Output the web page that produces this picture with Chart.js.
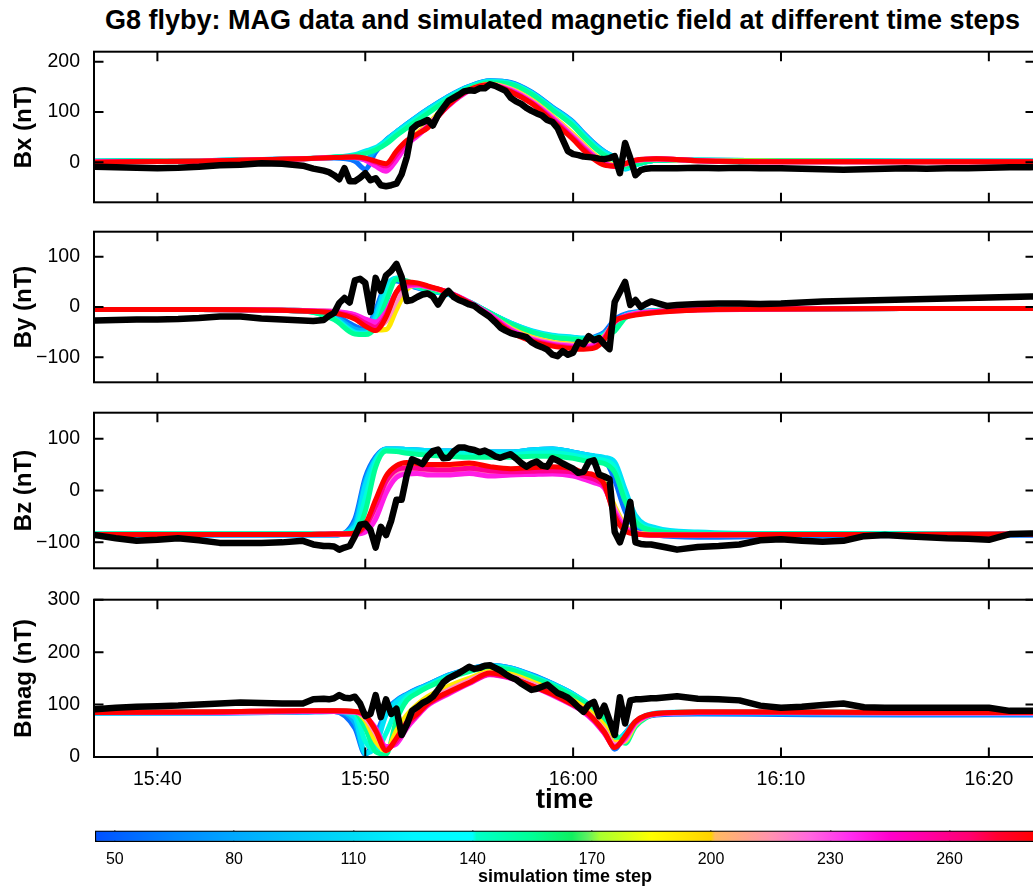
<!DOCTYPE html>
<html><head><meta charset="utf-8">
<script src="https://cdn.jsdelivr.net/npm/chart.js@4.4.1/dist/chart.umd.min.js"></script>
<style>
html,body{margin:0;padding:0;background:#fff;}
body{width:1033px;height:888px;overflow:hidden;position:relative;font-family:"Liberation Sans",Arial,Helvetica,sans-serif;}
canvas{position:absolute;left:0;}
#title{position:absolute;left:0;top:5px;width:1125px;text-align:center;font-weight:bold;font-size:27px;line-height:30px;white-space:nowrap;color:#000;}
</style></head><body>
<div id="title">G8 flyby: MAG data and simulated magnetic field at different time steps</div>
<canvas id="c1"></canvas><canvas id="c2"></canvas><canvas id="c3"></canvas><canvas id="c4"></canvas><canvas id="cb"></canvas>
<script>
// ---------- DATA ----------
// simulation sample times (minutes after 15:00)
const simT = [37, 42, 47, 48.5, 49.5, 50, 50.5, 51, 51.5, 52, 52.5, 53, 54, 55, 56, 57, 58, 59, 60, 60.5, 61, 61.5, 62, 62.5, 63, 64, 66, 70, 76, 82.5];
const stepNames = ['time step 60', 'time step 90', 'time step 115', 'time step 135', 'time step 155', 'time step 190', 'time step 215', 'time step 240', 'time step 262', 'time step 278'];

const bxStep60  = [2, 3, 7, 8, 2, -14, 20, 44, 60, 76, 91, 105, 131, 151, 162, 159, 140, 110, 80, 58, 38, 21, 8, -10, -4, 4, 4, 3, 2, 2];
const bxStep90  = [2, 3, 7, 9, 8, 5, 25, 44, 60, 76, 91, 105, 131, 151, 162, 158, 139, 109, 79, 57, 37, 21, 9, -12, -5, 4, 4, 3, 2, 2];
const bxStep115 = [2, 3, 7, 10, 15, 22, 29, 43, 60, 75, 90, 104, 130, 150, 161, 157, 138, 108, 78, 56, 36, 20, 10, -14, -6, 4, 4, 3, 2, 2];
const bxStep135 = [2, 3, 7, 10, 14, 20, 27, 40, 57, 72, 87, 101, 128, 149, 160, 156, 137, 106, 75, 53, 33, 17, 7, -11, -5, 4, 4, 3, 2, 2];
const bxStep155 = [2, 3, 7, 10, 13, 17, 24, 36, 53, 68, 83, 97, 125, 147, 158, 155, 135, 104, 72, 50, 30, 14, 4, -8, -4, 4, 4, 3, 2, 2];
const bxStep190 = [1, 2, 7, 9, 9, 6, -4, -12, 12, 40, 58, 76, 116, 144, 155, 146, 124, 92, 56, 36, 16, 2, -6, -4, 3, 6, 3, 2, 1, 1];
const bxStep215 = [1, 2, 7, 9, 9, 5, -6, -15, 8, 37, 55, 73, 114, 143, 154, 145, 122, 90, 53, 33, 14, 0, -7, -4, 3, 6, 3, 1, 1, 1];
const bxStep240 = [1, 2, 7, 9, 9, 4, -8, -18, 4, 34, 52, 70, 112, 142, 153, 143, 120, 88, 50, 30, 12, -2, -8, -4, 3, 7, 3, 1, 1, 1];
const bxStep262 = [0, 2, 7, 9, 10, 7, 0, -8, 15, 40, 55, 70, 113, 143, 153, 141, 118, 85, 47, 27, 9, -4, -8, -3, 4, 7, 3, 1, 1, 1];
const bxStep278 = [0, 2, 7, 9, 10, 8, 2, -3, 22, 43, 56, 68, 114, 144, 154, 140, 117, 82, 45, 24, 6, -6, -8, -3, 4, 7, 3, 1, 1, 1];

const byStep60  = [-5, -5, -7, -16, -38, -45, -5, 45, 52, 45, 38, 33, 25, 10, -12, -33, -50, -60, -64, -64, -60, -50, -25, -14, -10, -7, -5, -4, -3, -3];
const byStep90  = [-5, -5, -7, -19, -44, -48, -12, 42, 55, 46, 39, 33, 25, 10, -12, -32, -48, -58, -62, -63, -61, -52, -33, -16, -11, -7, -5, -4, -3, -3];
const byStep115 = [-5, -5, -8, -22, -50, -52, -20, 40, 58, 48, 40, 34, 26, 10, -12, -32, -47, -56, -60, -62, -62, -55, -42, -18, -12, -8, -5, -4, -3, -3];
const byStep135 = [-5, -5, -8, -24, -52, -54, -30, 25, 57, 50, 41, 34, 26, 10, -12, -33, -49, -58, -62, -64, -63, -57, -45, -20, -13, -8, -5, -4, -3, -3];
const byStep155 = [-5, -5, -8, -25, -54, -55, -40, 10, 55, 52, 42, 35, 27, 10, -12, -34, -50, -60, -64, -65, -64, -58, -48, -22, -14, -8, -5, -4, -3, -3];
const byStep190 = [-5, -5, -7, -10, -18, -30, -46, -45, -5, 35, 44, 40, 28, 8, -16, -42, -60, -70, -74, -75, -72, -58, -30, -18, -13, -9, -5, -4, -3, -3];
const byStep215 = [-5, -5, -7, -9, -16, -27, -38, -28, 12, 40, 44, 40, 28, 9, -15, -44, -62, -72, -76, -77, -74, -59, -30, -18, -13, -9, -5, -4, -3, -3];
const byStep240 = [-5, -5, -7, -9, -15, -24, -30, -10, 30, 42, 44, 40, 29, 10, -15, -45, -64, -74, -78, -79, -76, -60, -30, -18, -13, -9, -5, -4, -3, -3];
const byStep262 = [-5, -5, -8, -11, -20, -32, -40, -16, 30, 46, 46, 41, 29, 9, -18, -48, -66, -76, -81, -82, -80, -63, -29, -19, -15, -10, -6, -4, -3, -3];
const byStep278 = [-5, -5, -8, -12, -24, -38, -47, -20, 30, 50, 48, 42, 29, 8, -20, -50, -68, -78, -83, -84, -82, -65, -28, -20, -16, -11, -6, -4, -3, -3];

const bzStep60  = [-86, -86, -86, -86, -55, 25, 65, 80, 80, 79, 78, 77, 76, 75, 74, 74, 78, 80, 74, 70, 66, 60, 20, -40, -72, -86, -90, -88, -87, -86];
const bzStep90  = [-86, -86, -86, -86, -62, 18, 62, 80, 80, 79, 78, 77, 76, 75, 74, 74, 78, 80, 74, 70, 66, 62, 40, -20, -62, -80, -86, -86, -85, -85];
const bzStep115 = [-84, -84, -84, -84, -70, 10, 60, 80, 80, 79, 78, 77, 76, 75, 74, 74, 78, 80, 74, 70, 67, 64, 55, 2, -48, -72, -80, -83, -83, -83];
const bzStep135 = [-84, -84, -84, -84, -76, -15, 55, 78, 77, 75, 74, 72, 71, 70, 69, 69, 72, 73, 68, 64, 61, 58, 45, -10, -55, -76, -82, -84, -84, -84];
const bzStep155 = [-84, -84, -84, -84, -82, -40, 45, 76, 75, 72, 70, 68, 66, 64, 64, 64, 66, 66, 62, 58, 55, 52, 35, -20, -60, -78, -84, -84, -84, -84];
const bzStep190 = [-85, -85, -85, -84, -84, -75, -40, 10, 35, 45, 47, 46, 45, 46, 43, 40, 40, 42, 38, 32, 26, 15, -30, -68, -80, -85, -86, -85, -85, -84];
const bzStep215 = [-85, -85, -85, -84, -84, -78, -48, 2, 30, 38, 40, 38, 37, 40, 35, 35, 36, 37, 33, 27, 20, 10, -35, -70, -81, -86, -86, -85, -85, -84];
const bzStep240 = [-85, -85, -85, -84, -84, -80, -55, -5, 25, 32, 33, 30, 30, 33, 28, 30, 31, 32, 28, 22, 15, 5, -40, -72, -82, -86, -86, -85, -85, -84];
const bzStep262 = [-85, -85, -85, -84, -83, -70, -30, 18, 40, 44, 43, 41, 40, 43, 38, 36, 37, 38, 35, 28, 22, 8, -45, -76, -83, -86, -86, -85, -85, -84];
const bzStep278 = [-85, -85, -85, -84, -82, -65, -18, 28, 48, 54, 52, 50, 50, 53, 46, 42, 44, 46, 42, 34, 30, 12, -50, -78, -84, -86, -86, -85, -85, -84];

const bmStep60  = [84, 84, 86, 87, 55, 5, 40, 88, 108, 120, 130, 138, 156, 168, 175, 170, 157, 140, 120, 105, 88, 65, 15, 45, 66, 80, 82, 81, 80, 80];
const bmStep90  = [84, 84, 86, 87, 65, 6, 30, 84, 107, 119, 129, 138, 156, 168, 175, 170, 156, 140, 120, 106, 91, 72, 22, 45, 67, 82, 84, 83, 82, 82];
const bmStep115 = [84, 85, 87, 88, 75, 8, 20, 80, 105, 118, 128, 137, 155, 167, 174, 169, 155, 139, 120, 108, 94, 78, 32, 45, 68, 84, 86, 85, 84, 84];
const bmStep135 = [85, 85, 87, 88, 82, 30, 12, 45, 90, 114, 126, 135, 153, 165, 172, 168, 154, 138, 118, 106, 92, 76, 38, 35, 63, 83, 86, 86, 85, 85];
const bmStep155 = [85, 86, 87, 88, 86, 55, 10, 5, 70, 108, 122, 133, 150, 163, 170, 166, 152, 136, 116, 104, 90, 74, 45, 26, 58, 82, 86, 86, 85, 85];
const bmStep190 = [85, 86, 87, 88, 87, 70, 30, 12, 50, 80, 100, 115, 135, 150, 163, 158, 144, 128, 108, 96, 80, 60, 28, 30, 62, 83, 86, 86, 85, 85];
const bmStep215 = [85, 85, 87, 87, 86, 75, 45, 15, 35, 68, 90, 107, 128, 146, 160, 154, 140, 123, 103, 91, 74, 52, 24, 32, 63, 82, 85, 85, 84, 84];
const bmStep240 = [85, 85, 87, 87, 86, 78, 55, 20, 25, 55, 78, 98, 120, 140, 157, 150, 135, 118, 98, 86, 68, 45, 20, 35, 65, 82, 85, 85, 84, 84];
const bmStep262 = [85, 86, 88, 88, 87, 79, 52, 15, 30, 60, 80, 100, 122, 141, 158, 151, 136, 119, 99, 88, 70, 46, 19, 38, 67, 83, 86, 86, 85, 85];
const bmStep278 = [85, 86, 88, 88, 87, 80, 50, 12, 36, 66, 82, 102, 124, 142, 160, 152, 136, 120, 100, 90, 72, 48, 18, 40, 68, 83, 86, 86, 85, 85];

// MAG measurement times (minutes after 15:00)
const magT = [37, 38, 39, 40, 41, 42, 43, 44, 45, 46, 47,
  47.5, 48,
  48.25, 48.5, 48.75, 49, 49.25, 49.5, 49.75, 50, 50.25, 50.5, 50.75, 51, 51.25, 51.5, 51.75, 52,
  52.25, 52.5, 52.75, 53, 53.25, 53.5, 53.75, 54, 54.25, 54.5, 54.75, 55, 55.25, 55.5, 55.75, 56,
  56.25, 56.5, 56.75, 57, 57.25, 57.5, 57.75, 58, 58.25, 58.5, 58.75, 59, 59.25, 59.5, 59.75, 60,
  60.25, 60.5, 60.75, 61, 61.25, 61.5, 61.75, 62, 62.25, 62.5, 62.75, 63, 63.25, 63.5, 63.75, 64,
  64.5, 65,
  66, 67, 68, 69, 70, 71, 72, 73, 74, 75, 76, 77, 78, 79, 80, 81, 82,
  82.5];
const magBx = [-9, -10, -11, -12, -11, -9, -6, -5, -2, -3, -7,
  -13, -17,
  -20, -26, -34, -12, -38, -38, -31, -22, -36, -32, -46, -48, -46, -43, -24, 10,
  66, 75, 79, 84, 73, 94, 108, 122, 128, 134, 141, 143, 142, 147, 147, 155,
  152, 147, 142, 128, 121, 116, 108, 102, 97, 93, 84, 80, 68, 45, 22, 16,
  14, 11, 10, 9, 7, 6, 8, 12, -22, 38, 8, -26, -16, -13, -12, -12,
  -12, -12,
  -11, -12, -11, -12, -12, -13, -14, -15, -14, -13, -12, -13, -12, -12, -11, -10, -10,
  -9];
const magBy = [-27, -26, -25, -25, -24, -22, -19, -19, -23, -25, -27,
  -28, -26,
  -18, -12, 8, 18, 9, 53, 56, 48, -10, 58, 32, 63, 72, 86, 60, 12,
  14, 20, 25, 27, 21, 5, 22, 32, 20, 14, 10, 5, 2, -6, -13, -20,
  -30, -41, -47, -52, -55, -57, -60, -70, -76, -80, -85, -95, -98, -88, -95, -91,
  -70, -74, -58, -66, -62, -74, -84, 10, 30, 50, 4, 14, 0, 6, 11, 8,
  2, 4,
  6, 7, 7, 6, 7, 9, 11, 12, 13, 14, 15, 16, 17, 18, 19, 20, 21,
  21];
const magBz = [-86, -92, -97, -95, -92, -96, -101, -101, -101, -100, -97,
  -104, -107,
  -107, -108, -114, -110, -107, -88, -66, -64, -76, -110, -70, -86, -58, -18, -18, 30,
  60, 56, 51, 66, 76, 79, 62, 63, 75, 83, 83, 80, 78, 74, 77, 72,
  66, 63, 67, 70, 62, 53, 46, 52, 56, 48, 46, 62, 58, 52, 47, 42,
  34, 36, 55, 58, 31, 27, 22, -80, -100, -70, -22, -100, -103, -104, -104, -106,
  -110, -114,
  -109, -107, -104, -96, -94, -97, -99, -97, -88, -86, -88, -90, -92, -93, -95, -84, -83,
  -83];
const magBmag = [91, 94, 96, 97, 98, 100, 102, 104, 103, 102, 102,
  110, 111,
  110, 112, 118, 113, 112, 115, 102, 78, 82, 118, 76, 110, 82, 92, 42, 62,
  88, 95, 103, 108, 115, 128, 142, 150, 155, 160, 166, 172, 168, 170, 174, 175,
  170, 165, 158, 152, 148, 140, 134, 128, 130, 134, 138, 130, 122, 118, 113, 105,
  95, 86, 100, 105, 78, 98, 70, 42, 114, 64, 108, 110, 110, 111, 112, 112,
  114, 116,
  111, 110, 108, 98, 94, 96, 99, 102, 95, 94, 94, 94, 94, 94, 94, 88, 88,
  88];

// tick values / labels
const timeTicks = [40, 50, 60, 70, 80];
const timeTickLabels = ['15:40', '15:50', '16:00', '16:10', '16:20'];
const bxTicks = [0, 100, 200];
const byTicks = [-100, 0, 100];
const bzTicks = [-100, 0, 100];
const bmTicks = [0, 100, 200, 300];
const cbTicks = [50, 80, 110, 140, 170, 200, 230, 260];
const cbRange = [45, 281.5];
const cbStopValues = [45, 50, 65, 80, 95, 110, 125, 140, 141, 155, 165, 169, 172, 185, 200, 201, 215, 225, 235, 245, 255, 265, 272, 281.5];
const cbStopColors = ['#0050ff', '#005eff', '#0086ff', '#00a8ff', '#00c4fa', '#00dcf8', '#00f6ff', '#00ffff', '#00ffc8', '#00ff96', '#10f060', '#60f060', '#a8ff30', '#ffff00', '#ffd200', '#ffbb60', '#ff92b0', '#ff66e0', '#ff2cf0', '#ff00cc', '#ff00a0', '#ff0070', '#ff0030', '#ff0000'];

// ---------- STYLE / LAYOUT ----------
const stepColors = ['#0a70ff', '#00b0fc', '#00e2fa', '#00ffd8', '#00ff96', '#ffe800', '#ff8cc0', '#ff1ee6', '#ff0090', '#ff0000'];
const X_MIN = 36.95, X_MAX = 82.22;
const TICK_LEN = 9.5;
Chart.defaults.font.family = '"Liberation Sans", Arial, Helvetica, sans-serif';
Chart.defaults.color = '#000';

const frameTicks = {
  id: 'frameTicks',
  afterDraw(chart) {
    const {ctx, chartArea: a, scales: {x, y}} = chart;
    ctx.save();
    ctx.strokeStyle = '#000';
    ctx.lineWidth = 2;
    ctx.beginPath();
    x.ticks.forEach(t => {
      const px = x.getPixelForValue(t.value);
      ctx.moveTo(px, a.bottom); ctx.lineTo(px, a.bottom - TICK_LEN);
      ctx.moveTo(px, a.top); ctx.lineTo(px, a.top + TICK_LEN);
    });
    y.ticks.forEach(t => {
      const py = y.getPixelForValue(t.value);
      ctx.moveTo(a.left, py); ctx.lineTo(a.left + TICK_LEN, py);
      ctx.moveTo(a.right, py); ctx.lineTo(a.right - TICK_LEN, py);
    });
    ctx.stroke();
    ctx.strokeRect(a.left, a.top, a.right - a.left, a.bottom - a.top);
    ctx.restore();
  }
};

const fmtNum = v => v < 0 ? '\u2212' + Math.abs(v) : String(v);

const panels = [
  {id: 'c1', top: 34, areaTop: 14, areaH: 160, xH: 12, yMin: -80, yMax: 220, ticks: bxTicks, label: 'Bx (nT)',
   sims: [bxStep60, bxStep90, bxStep115, bxStep135, bxStep155, bxStep190, bxStep215, bxStep240, bxStep262, bxStep278], mag: magBx, showX: false},
  {id: 'c2', top: 214, areaTop: 14, areaH: 160, xH: 12, yMin: -150, yMax: 150, ticks: byTicks, label: 'By (nT)',
   sims: [byStep60, byStep90, byStep115, byStep135, byStep155, byStep190, byStep215, byStep240, byStep262, byStep278], mag: magBy, showX: false},
  {id: 'c3', top: 395, areaTop: 14, areaH: 165, xH: 12, yMin: -150, yMax: 150, ticks: bzTicks, label: 'Bz (nT)',
   sims: [bzStep60, bzStep90, bzStep115, bzStep135, bzStep155, bzStep190, bzStep215, bzStep240, bzStep262, bzStep278], mag: magBz, showX: false},
  {id: 'c4', top: 582, areaTop: 14, areaH: 161, xH: 60, yMin: 0, yMax: 300, ticks: bmTicks, label: 'Bmag (nT)',
   sims: [bmStep60, bmStep90, bmStep115, bmStep135, bmStep155, bmStep190, bmStep215, bmStep240, bmStep262, bmStep278], mag: magBmag, showX: true}
];

panels.forEach(p => {
  const cv = document.getElementById(p.id);
  cv.width = 1035;
  cv.height = p.areaTop + p.areaH + p.xH;
  cv.style.top = p.top + 'px';
  const n = p.sims.length;
  // lower "order" is drawn on top: later time steps on top, MAG data topmost
  const datasets = p.sims.map((arr, i) => ({
    label: stepNames[i],
    data: simT.map((t, j) => ({x: t, y: arr[j]})),
    borderColor: stepColors[i],
    borderWidth: 5,
    cubicInterpolationMode: 'monotone',
    pointRadius: 0,
    fill: false,
    clip: 0,
    order: n - i
  }));
  datasets.push({
    label: 'MAG data',
    data: magT.map((t, j) => ({x: t, y: p.mag[j]})),
    borderColor: '#000',
    borderWidth: 6.5,
    tension: 0,
    borderJoinStyle: 'round',
    borderCapStyle: 'round',
    pointRadius: 0,
    fill: false,
    clip: 0,
    order: 0
  });
  new Chart(cv, {
    type: 'line',
    data: {datasets},
    options: {
      responsive: false, animation: false, devicePixelRatio: 1,
      layout: {padding: {left: 0, right: 0, top: p.areaTop, bottom: 0}},
      plugins: {legend: {display: false}, tooltip: {enabled: false}},
      elements: {point: {radius: 0}},
      scales: {
        x: {
          type: 'linear', min: X_MIN, max: X_MAX,
          grid: {display: false}, border: {display: false},
          afterBuildTicks: s => { s.ticks = timeTicks.map(v => ({value: v})); },
          afterFit: s => { s.height = p.xH; },
          ticks: {display: p.showX, autoSkip: false, maxRotation: 0, padding: 3, font: {size: 19.5},
                  callback: v => timeTickLabels[timeTicks.indexOf(v)]},
          title: {display: p.showX, text: 'time', font: {size: 28, weight: 'bold'}, padding: {top: 0, bottom: 0}}
        },
        y: {
          type: 'linear', min: p.yMin, max: p.yMax,
          grid: {display: false}, border: {display: false},
          afterBuildTicks: s => { s.ticks = p.ticks.map(v => ({value: v})); },
          afterFit: s => { s.width = 94; },
          ticks: {padding: 6, font: {size: 19.5}, callback: v => fmtNum(v)},
          title: {display: true, text: p.label, font: {size: 24, weight: 'bold'}, padding: {top: 9.5, bottom: 0}}
        }
      }
    },
    plugins: [frameTicks]
  });
});

// ---------- COLORBAR ----------
const cbc = document.getElementById('cb');
cbc.width = 1035; cbc.height = 68; cbc.style.top = '820px';
new Chart(cbc, {
  type: 'bar',
  data: {labels: [''], datasets: [{
    label: 'simulation time step',
    data: [cbRange],
    backgroundColor: ctx => {
      const ch = ctx.chart;
      if (!ch.chartArea) return '#00ffff';
      const xs = ch.scales.x;
      const g = ch.ctx.createLinearGradient(xs.getPixelForValue(cbRange[0]), 0, xs.getPixelForValue(cbRange[1]), 0);
      cbStopValues.forEach((v, i) => g.addColorStop((v - cbRange[0]) / (cbRange[1] - cbRange[0]), cbStopColors[i]));
      return g;
    },
    borderColor: '#000', borderWidth: 1.5, borderSkipped: false,
    barPercentage: 1, categoryPercentage: 1
  }]},
  options: {
    indexAxis: 'y', responsive: false, animation: false, devicePixelRatio: 1,
    layout: {padding: {left: 95, right: 0, top: 10.5, bottom: 0}},
    plugins: {legend: {display: false}, tooltip: {enabled: false}},
    scales: {
      x: {
        type: 'linear', min: cbRange[0], max: cbRange[1], z: 1,
        grid: {color: '#000', lineWidth: 1.5, drawTicks: false, drawOnChartArea: true},
        border: {display: false},
        afterBuildTicks: s => { s.ticks = cbTicks.map(v => ({value: v})); },
        afterFit: s => { s.height = 46; },
        ticks: {padding: 8, font: {size: 16}, autoSkip: false, maxRotation: 0},
        title: {display: true, text: 'simulation time step', font: {size: 18, weight: 'bold'}, padding: {top: 0, bottom: 0}}
      },
      y: {display: false}
    }
  }
});
</script>
</body></html>
